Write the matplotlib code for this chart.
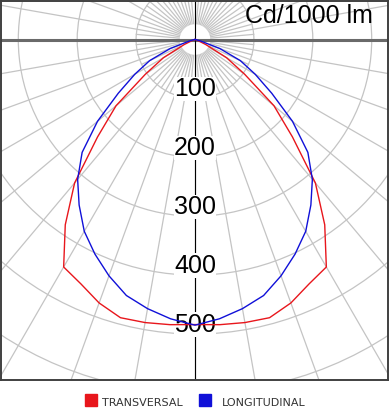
import numpy as np
import matplotlib
matplotlib.use('Agg')
import matplotlib.pyplot as plt
from matplotlib.patches import Circle, Rectangle

# intensity (cd/1000 lm) against angle from nadir, one half of the curve
angles = [0, 5, 10, 15, 20, 25, 30, 35, 40, 45, 50, 55, 60, 65, 70, 75, 80, 85, 90]
transversal = [484, 486, 488, 489, 476, 458, 446, 384, 318, 234, 175, 103, 62, 20, 5, 1, 0, 0, 0]
longitudinal = [485, 476, 464, 450, 427, 402, 376, 343, 310, 271, 216, 159, 118, 85, 45, 10, 2, 0, 0]

rings = [100, 200, 300, 400, 500, 600, 700]
ring_labels = ['100', '200', '300', '400', '500']
legend_names = ['TRANSVERSAL', 'LONGITUDINAL']
colors = ['#e8161c', '#1010d8']

W, H = 390, 415
fig = plt.figure(figsize=(W / 100, H / 100), dpi=100)
# plot box in pixels: x 1..388, y 1..380, pole at (195, 39.5)
ax = fig.add_axes([1 / W, (H - 380) / H, 387 / W, 379 / H])
k = 1 / 0.589  # cd per pixel
ax.set_xlim(-(195 - 1) * k, (388 - 195) * k)
ax.set_ylim(-(380 - 39.5) * k, (39.5 - 1) * k)
ax.set_aspect('equal')
ax.set_xticks([])
ax.set_yticks([])
for s in ax.spines.values():
    s.set_color('#404040')
    s.set_linewidth(1.4)

grid = '#c4c4c4'
for r in rings:
    ax.add_patch(Circle((0, 0), r, fill=False, ec=grid, lw=0.9, zorder=1))
for a in range(0, 360, 5):
    t = np.radians(a)
    rmax = 1000 if a % 10 == 0 else 100
    ax.plot([27 * np.sin(t), rmax * np.sin(t)], [27 * np.cos(t), rmax * np.cos(t)],
            color=grid, lw=0.9, zorder=1)

ax.axhline(0, color='#6a6a6a', lw=2.2, zorder=2)
ax.axvline(0, color='black', lw=0.8, zorder=2)

for lab in ring_labels:
    r = float(lab)
    ax.text(0, -(r - 16), lab, ha='center', va='center', fontsize=18,
            family='Liberation Sans', zorder=3,
            bbox=dict(facecolor='white', edgecolor='none', pad=0.2))

ax.text(0.961, 0.942, 'Cd/1000 lm', transform=ax.transAxes, ha='right',
        va='baseline', fontsize=18, family='Liberation Sans', zorder=3)

full = np.radians(np.r_[-np.array(angles[::-1]), angles[1:]])
for vals, c in zip([transversal, longitudinal], colors):
    rr = np.r_[vals[::-1], vals[1:]]
    ax.plot(rr * np.sin(full), -rr * np.cos(full), color=c, lw=1.0, zorder=4)

# legend under the box
for name, c, xs, xt in zip(legend_names, colors, [85, 199], [102, 222]):
    fig.patches.append(Rectangle((xs / W, (H - 406) / H), 12 / W, 12 / H,
                                 transform=fig.transFigure, color=c))
    fig.text(xt / W, (H - 406) / H, name, ha='left', va='baseline', fontsize=8,
             family='DejaVu Sans', color='#333333')

fig.savefig('out.png', dpi=100)
